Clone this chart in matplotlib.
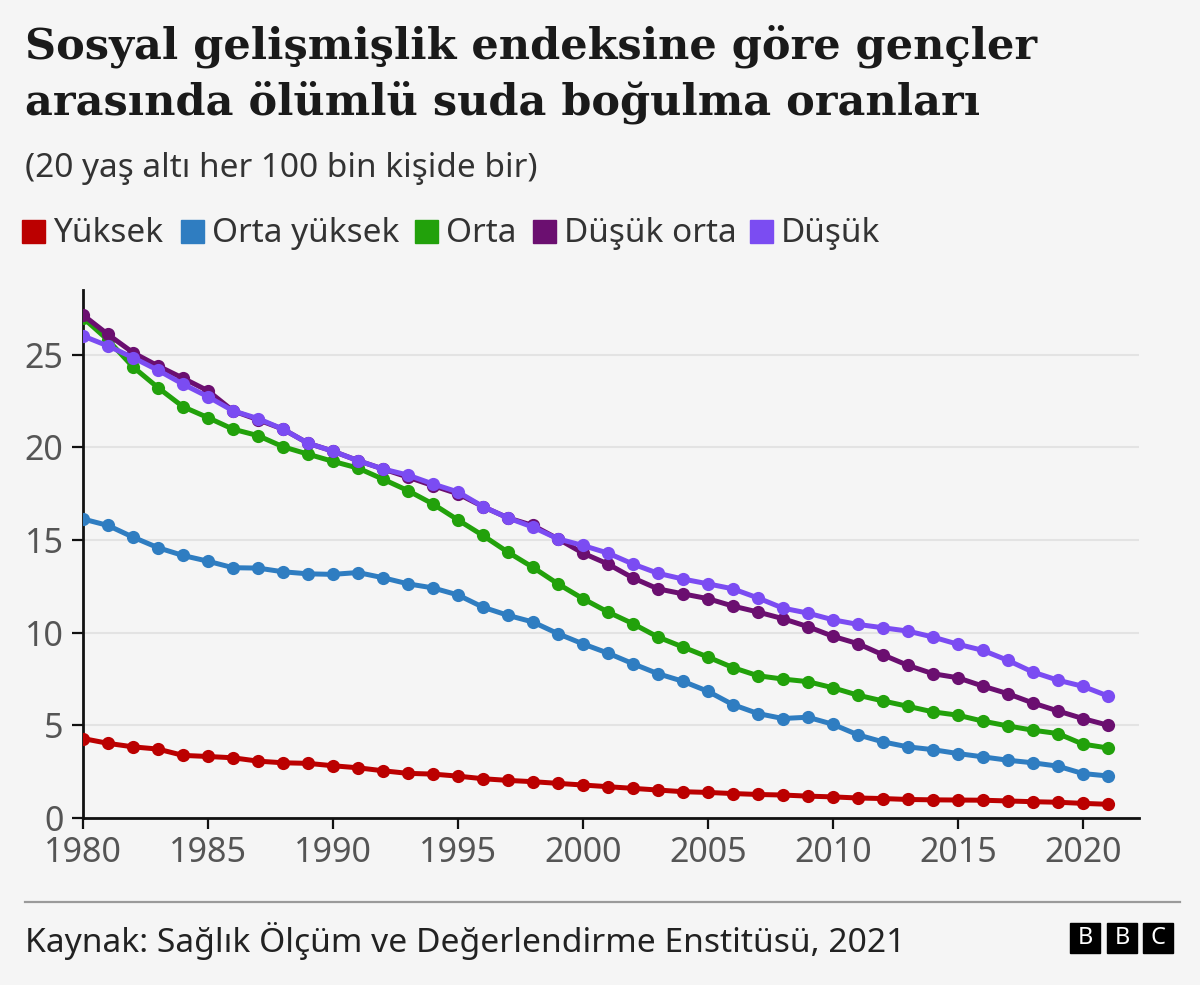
import numpy as np
import matplotlib.pyplot as plt
from matplotlib.patches import Rectangle
from matplotlib.lines import Line2D

# Data: drowning death rates under age 20, per 100k, by SDI group
years = list(range(1980, 2022))

yuksek = [4.29, 4.03, 3.84, 3.72, 3.38, 3.32, 3.25, 3.07, 2.98, 2.95,
          2.82, 2.71, 2.55, 2.41, 2.37, 2.26, 2.12, 2.03, 1.96, 1.87,
          1.78, 1.69, 1.60, 1.51, 1.42, 1.38, 1.32, 1.27, 1.24, 1.18,
          1.14, 1.08, 1.05, 1.00, 0.98, 0.97, 0.96, 0.92, 0.88, 0.85,
          0.79, 0.74]
orta_yuksek = [16.14, 15.79, 15.16, 14.59, 14.17, 13.86, 13.51, 13.49, 13.29, 13.18,
               13.15, 13.25, 12.97, 12.64, 12.42, 12.04, 11.38, 10.94, 10.58, 9.95,
               9.40, 8.90, 8.33, 7.79, 7.38, 6.84, 6.12, 5.64, 5.37, 5.44,
               5.06, 4.49, 4.11, 3.84, 3.69, 3.48, 3.30, 3.12, 2.98, 2.80,
               2.40, 2.27]
orta = [27.0, 25.8, 24.35, 23.23, 22.2, 21.61, 20.99, 20.64, 20.04, 19.64,
        19.25, 18.89, 18.29, 17.67, 16.95, 16.09, 15.25, 14.35, 13.53, 12.64,
        11.84, 11.12, 10.49, 9.77, 9.23, 8.69, 8.12, 7.68, 7.50, 7.36,
        7.03, 6.63, 6.32, 6.03, 5.73, 5.55, 5.23, 4.97, 4.74, 4.56,
        3.99, 3.78]
dusuk_orta = [27.15, 26.1, 25.12, 24.4, 23.74, 23.06, 21.98, 21.5, 20.99, 20.23,
              19.8, 19.29, 18.84, 18.4, 17.94, 17.5, 16.81, 16.2, 15.79, 15.07,
              14.3, 13.71, 12.96, 12.37, 12.1, 11.84, 11.44, 11.12, 10.76, 10.33,
              9.81, 9.41, 8.81, 8.24, 7.79, 7.57, 7.12, 6.71, 6.21, 5.78,
              5.37, 5.01]
dusuk = [26.02, 25.48, 24.85, 24.17, 23.42, 22.74, 21.98, 21.56, 20.99, 20.23,
         19.8, 19.29, 18.84, 18.51, 18.03, 17.6, 16.81, 16.2, 15.7, 15.07,
         14.71, 14.3, 13.71, 13.21, 12.9, 12.64, 12.37, 11.88, 11.33, 11.06,
         10.7, 10.45, 10.27, 10.09, 9.77, 9.38, 9.05, 8.51, 7.88, 7.44,
         7.11, 6.59]

labels = ['Yüksek', 'Orta yüksek', 'Orta', 'Düşük orta', 'Düşük']
colors = ['#bb0000', '#2f7dc1', '#22a10b', '#6b0f70', '#7b4cf2']
series = [yuksek, orta_yuksek, orta, dusuk_orta, dusuk]

W, H = 1200, 985
bg = '#f5f5f5'
sans = ['Noto Sans', 'DejaVu Sans']

fig = plt.figure(figsize=(W / 100, H / 100), dpi=100, facecolor=bg)

def fx(px):
    return px / W

def fy(py):
    return 1 - py / H

ax = fig.add_axes([fx(83), fy(818), fx(1139) - fx(83), fy(290) - fy(818)])
ax.set_facecolor(bg)

for vals, c in zip(series, colors):
    ax.plot(years, vals, color=c, lw=3.6, marker='o', markersize=9.5,
            markeredgewidth=0, solid_capstyle='round', zorder=3)

ax.set_xlim(1980, 2022.25)
ax.set_ylim(0, 28.5)
ax.set_yticks([0, 5, 10, 15, 20, 25])
ax.set_xticks(range(1980, 2021, 5))
ax.grid(axis='y', color='#e3e3e3', lw=1.5, zorder=0)
for s in ['top', 'right']:
    ax.spines[s].set_visible(False)
for s in ['left', 'bottom']:
    ax.spines[s].set_linewidth(2)
    ax.spines[s].set_color('#111111')
ax.tick_params(axis='both', length=8, width=1.6, color='#111111',
               labelsize=24.5, labelcolor='#555555')
ax.tick_params(axis='y', pad=6)
ax.tick_params(axis='x', pad=5)
for lab in ax.get_xticklabels() + ax.get_yticklabels():
    lab.set_family(sans)

# Title and subtitle
fig.text(fx(25), fy(58), 'Sosyal gelişmişlik endeksine göre gençler',
         family='DejaVu Serif', weight='bold', fontsize=31, color='#1a1a1a', va='baseline')
fig.text(fx(25), fy(114), 'arasında ölümlü suda boğulma oranları',
         family='DejaVu Serif', weight='bold', fontsize=31, color='#1a1a1a', va='baseline')
fig.text(fx(25), fy(177), '(20 yaş altı her 100 bin kişide bir)',
         family=sans, fontsize=24, color='#333333', va='baseline')

# Legend
leg_sq = [22, 181, 415, 533, 750]
for x0, lab, c in zip(leg_sq, labels, colors):
    fig.patches.append(Rectangle((fx(x0), fy(243)), fx(23), 23 / H,
                                 transform=fig.transFigure, color=c))
    fig.text(fx(x0 + 31), fy(242), lab, family=sans, fontsize=24,
             color='#333333', va='baseline')

# Footer
fig.add_artist(Line2D([fx(25), fx(1180)], [fy(902), fy(902)],
                      transform=fig.transFigure, color='#9a9a9a', lw=1.6))
fig.text(fx(25), fy(952), 'Kaynak: Sağlık Ölçüm ve Değerlendirme Enstitüsü, 2021',
         family=sans, fontsize=24.2, color='#222222', va='baseline')
for x0, letter in zip([1070, 1107, 1143], 'BBC'):
    fig.patches.append(Rectangle((fx(x0), fy(953)), fx(30), 30 / H,
                                 transform=fig.transFigure, color='#000000'))
    fig.text(fx(x0 + 15), fy(938), letter, family=sans, weight='bold',
             fontsize=17, color='white', ha='center', va='center')

fig.savefig('out.png', dpi=100, facecolor=bg)
